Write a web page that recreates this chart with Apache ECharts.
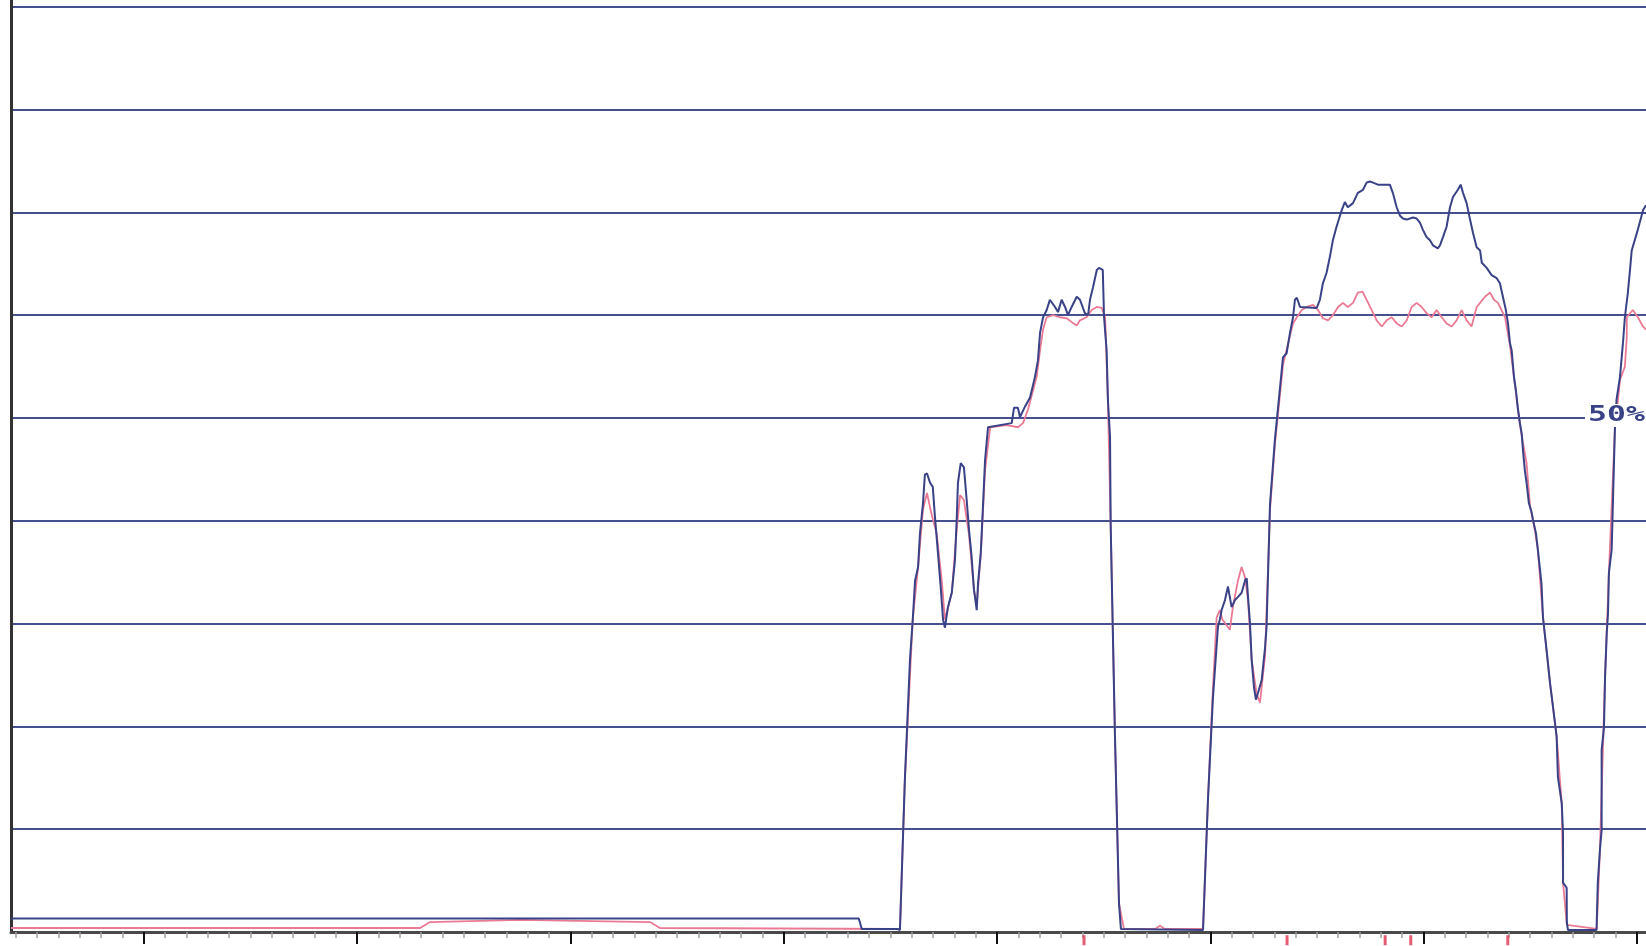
<!DOCTYPE html>
<html>
<head>
<meta charset="utf-8">
<script src="https://cdn.jsdelivr.net/npm/echarts@6/dist/echarts.min.js"></script>
<style>
html,body{margin:0;padding:0;background:#fff;}
#chart{width:1646px;height:946px;}
</style>
</head>
<body>
<div id="chart"></div>
<script>
// x: time in minor-tick units (major tick every 10), y: percent
const xStart = -6.23;
const xEnd = 70.43;
const yMax = 90.66;
const minorTickRange = [-6, 70];
const majorTickRange = [0, 70];
const labelText = '50%';

const blueSeries = [
  [-6.23,1.31],[33.52,1.31],[33.66,0.29],[35.35,0.29],[35.45,0.19],[35.68,14.8],[35.92,26.5],[36.05,30.4],
  [36.16,34.2],[36.30,35.5],[36.39,38.8],[36.53,41.7],[36.62,44.5],[36.72,44.6],[36.86,43.7],[36.99,43.3],
  [37.09,40.4],[37.23,36.9],[37.36,33.6],[37.47,30.4],[37.56,29.6],[37.70,31.6],[37.88,33.0],[38.03,36.2],
  [38.11,40.1],[38.17,43.7],[38.30,45.6],[38.45,45.2],[38.58,42.0],[38.69,39.1],[38.81,36.5],[38.92,33.3],
  [39.05,31.3],[39.11,33.9],[39.24,36.9],[39.34,41.3],[39.44,45.9],[39.58,49.1],[40.69,49.5],[40.80,51.0],
  [40.98,51.0],[41.08,50.1],[41.31,51.1],[41.55,52.0],[41.78,54.0],[41.92,55.6],[42.02,58.3],[42.16,59.8],
  [42.33,60.5],[42.48,61.5],[42.72,60.8],[42.86,60.3],[43.03,61.5],[43.19,60.8],[43.33,60.0],[43.50,60.8],
  [43.74,61.8],[43.89,61.5],[44.12,60.2],[44.27,60.0],[44.36,61.5],[44.50,62.7],[44.68,64.4],[44.78,64.6],
  [44.96,64.4],[45.02,59.8],[45.14,56.6],[45.20,51.8],[45.30,48.2],[45.33,39.6],[45.53,19.2],[45.72,2.8],
  [45.81,0.3],[49.66,0.2],[49.89,12.8],[50.12,22.6],[50.36,29.7],[50.45,30.4],[50.53,31.3],[50.69,32.3],
  [50.83,33.6],[50.92,33.5],[51.00,31.6],[51.16,32.3],[51.30,32.6],[51.47,33.0],[51.63,34.2],[51.71,34.4],
  [51.77,32.6],[51.86,30.1],[51.94,26.5],[52.05,23.8],[52.14,22.6],[52.23,23.2],[52.41,24.5],[52.57,27.7],
  [52.64,29.7],[52.80,41.6],[53.03,47.9],[53.41,55.9],[53.58,56.3],[53.74,58.3],[53.88,59.8],[53.97,61.5],
  [54.06,61.7],[54.21,60.8],[54.99,60.7],[55.14,61.5],[55.28,63.1],[55.45,64.1],[55.61,65.7],[55.75,67.3],
  [55.92,68.6],[56.16,70.2],[56.31,71.0],[56.45,70.5],[56.69,70.9],[56.92,71.9],[57.16,72.2],[57.33,72.9],
  [57.49,73.0],[57.63,72.9],[57.86,72.7],[58.42,72.7],[58.56,71.9],[58.74,70.5],[58.89,69.7],[59.03,69.4],
  [59.21,69.3],[59.36,69.4],[59.50,69.5],[59.68,69.4],[59.83,69.0],[59.97,68.3],[60.14,67.6],[60.30,67.3],
  [60.44,66.8],[60.67,66.5],[60.77,66.8],[60.91,67.6],[61.08,68.6],[61.24,70.5],[61.38,71.5],[61.61,72.2],
  [61.74,72.7],[61.85,71.9],[62.02,70.9],[62.18,69.3],[62.32,68.0],[62.49,66.6],[62.65,66.3],[62.73,65.1],
  [62.96,64.6],[63.19,63.9],[63.43,63.6],[63.58,63.1],[63.72,61.8],[63.86,60.5],[63.96,59.2],[64.05,57.3],
  [64.13,56.6],[64.24,54.0],[64.33,52.7],[64.43,50.8],[64.52,49.5],[64.60,48.5],[64.66,46.9],[64.75,44.9],
  [64.83,43.7],[64.94,41.7],[65.07,40.8],[65.13,40.1],[65.27,38.8],[65.36,37.2],[65.53,33.9],[65.60,30.6],
  [65.77,27.4],[65.93,24.2],[66.07,21.9],[66.24,19.0],[66.30,15.1],[66.48,12.5],[66.54,9.6],[66.54,4.8],
  [66.71,4.3],[66.72,0.9],[66.77,0.2],[68.11,0.2],[68.17,4.8],[68.27,8.0],[68.35,9.9],[68.35,17.7],
  [68.46,19.9],[68.51,24.8],[68.59,29.1],[68.65,31.0],[68.69,34.9],[68.82,37.2],[68.90,37.2],[68.97,48.8],
  [69.05,51.8],[69.21,54.0],[69.35,57.3],[69.44,59.8],[69.58,62.2],[69.68,64.4],[69.76,66.3],[70.03,68.2],
  [70.29,70.2],[70.43,70.7]
];

const pinkSeries = [
  [-6.23,0.39],[12.95,0.39],[13.42,0.97],[17.64,1.17],[23.73,0.97],[24.20,0.39],[35.45,0.29],[35.68,14.8],
  [36.05,30.4],[36.30,35.5],[36.53,41.1],[36.72,42.7],[36.86,41.3],[37.00,40.1],[37.17,38.8],[37.41,34.2],
  [37.56,30.4],[37.88,33.0],[38.11,39.1],[38.27,42.5],[38.45,42.0],[38.69,38.6],[38.92,33.3],[39.05,31.8],
  [39.24,36.7],[39.44,44.9],[39.68,49.1],[40.45,49.3],[40.98,49.1],[41.22,49.5],[41.45,50.8],[41.86,54.0],
  [42.02,56.6],[42.16,58.6],[42.33,59.8],[42.63,60.0],[42.95,59.8],[43.27,59.7],[43.52,59.3],[43.74,59.0],
  [43.89,59.5],[44.20,59.8],[44.44,60.5],[44.68,60.8],[44.91,60.7],[45.07,59.8],[45.20,51.8],[45.33,39.6],
  [45.53,19.2],[45.72,2.8],[45.95,0.3],[47.41,0.3],[47.64,0.6],[47.88,0.3],[49.66,0.3],[49.89,12.8],
  [50.12,23.5],[50.30,30.6],[50.45,31.3],[50.57,30.4],[50.92,29.4],[51.06,31.6],[51.30,34.2],[51.47,35.5],
  [51.63,34.5],[51.77,32.3],[51.94,26.5],[52.17,23.2],[52.33,22.3],[52.57,26.9],[52.80,41.0],[53.03,47.4],
  [53.41,55.2],[53.88,59.2],[54.06,59.8],[54.29,60.5],[54.52,60.8],[54.82,61.0],[55.05,60.5],[55.28,59.7],
  [55.52,59.5],[55.75,60.0],[55.99,60.8],[56.22,61.2],[56.45,60.8],[56.69,61.2],[56.92,62.2],[57.14,62.3],
  [57.33,61.5],[57.57,60.5],[57.80,59.5],[58.04,58.9],[58.27,59.5],[58.51,59.8],[58.74,59.2],[58.98,58.9],
  [59.21,59.5],[59.44,60.8],[59.68,61.2],[59.91,60.8],[60.14,60.2],[60.38,59.8],[60.61,60.5],[60.85,59.8],
  [61.08,59.2],[61.32,58.9],[61.55,59.5],[61.79,60.5],[62.02,59.5],[62.25,58.9],[62.49,60.8],[62.65,61.2],
  [62.88,61.8],[63.12,62.2],[63.30,61.5],[63.49,61.2],[63.82,59.8],[64.05,57.1],[64.33,52.5],[64.52,49.3],
  [64.66,47.6],[64.83,45.6],[64.99,41.5],[65.22,39.1],[65.36,37.2],[65.60,30.6],[65.93,24.2],[66.24,19.0],
  [66.48,12.5],[66.54,4.8],[66.72,0.7],[68.12,0.3],[68.27,8.0],[68.51,24.8],[68.69,34.9],[68.97,48.8],
  [69.21,53.7],[69.44,55.0],[69.53,57.9],[69.53,59.8],[69.81,60.5],[70.05,59.8],[70.29,58.9],[70.43,58.6]
];

const redMarks = [44.08, 53.6, 58.2, 59.4, 63.95];

const chart = echarts.init(document.getElementById('chart'), null, {renderer: 'canvas'});

// pixels per x unit = plot width / unit span (kept identical on all grids)
const plotLeft = 11, plotRight = 0, W = 1646;
const pxPerUnit = (W - plotLeft - plotRight) / (xEnd - xStart);
const unitToPx = u => plotLeft + (u - xStart) * pxPerUnit;

const gridCommon = {top: 0, bottom: 14};
const splitColors = [];
for (let v = 0; v <= yMax; v += 10) splitColors.push('#46508f');
splitColors.push('rgba(0,0,0,0)');

const option = {
  backgroundColor: '#ffffff',
  animation: false,
  grid: [
    Object.assign({left: plotLeft, right: plotRight}, gridCommon),
    Object.assign({left: unitToPx(minorTickRange[0]), right: W - unitToPx(minorTickRange[1])}, gridCommon),
    Object.assign({left: unitToPx(majorTickRange[0]), right: W - unitToPx(majorTickRange[1])}, gridCommon)
  ],
  xAxis: [
    {
      type: 'value', gridIndex: 0, min: xStart, max: xEnd,
      axisLine: {show: true, onZero: false, lineStyle: {color: '#4a4a4a', width: 3}},
      axisTick: {show: false}, axisLabel: {show: false}, splitLine: {show: false}
    },
    {
      type: 'value', gridIndex: 1, min: minorTickRange[0], max: minorTickRange[1], interval: 1,
      axisLine: {show: false},
      axisTick: {show: true, length: 6, lineStyle: {color: '#a0a0a0', width: 1.5}},
      axisLabel: {show: false}, splitLine: {show: false}
    },
    {
      type: 'value', gridIndex: 2, min: majorTickRange[0], max: majorTickRange[1], interval: 10,
      axisLine: {show: false},
      axisTick: {show: true, length: 12, lineStyle: {color: '#111', width: 2}},
      axisLabel: {show: false}, splitLine: {show: false}
    }
  ],
  yAxis: [
    {
      type: 'value', gridIndex: 0, min: 0, max: yMax, interval: 10,
      axisLine: {show: true, onZero: false, lineStyle: {color: '#333', width: 3}},
      axisTick: {show: false}, axisLabel: {show: false},
      splitLine: {show: true, lineStyle: {color: splitColors, width: 2}}
    },
    {type: 'value', gridIndex: 1, min: 0, max: yMax, show: false},
    {type: 'value', gridIndex: 2, min: 0, max: yMax, show: false}
  ],
  series: [
    {
      name: 'pink', type: 'line', xAxisIndex: 0, yAxisIndex: 0, data: pinkSeries,
      showSymbol: false, symbol: 'none', z: 3,
      lineStyle: {color: '#ea7a94', width: 1.8}
    },
    {
      name: 'blue', type: 'line', xAxisIndex: 0, yAxisIndex: 0, data: blueSeries,
      showSymbol: false, symbol: 'none', z: 4,
      lineStyle: {color: '#3a4287', width: 2}
    },
    {
      name: 'marks', type: 'scatter', xAxisIndex: 0, yAxisIndex: 0, clip: false,
      data: redMarks.map(v => [v, -0.8]),
      symbol: 'rect', symbolSize: [3, 10], z: 5,
      itemStyle: {color: '#e0334f'}
    }
  ],
  graphic: [
    {
      type: 'text', left: 1585, top: 404, z: 100, scaleX: 1.5,
      style: {
        text: labelText, font: 'bold 21px "DejaVu Sans Mono"', fill: '#3a4287',
        backgroundColor: '#ffffff', padding: [1, 2]
      }
    }
  ]
};
chart.setOption(option);
</script>
</body>
</html>
